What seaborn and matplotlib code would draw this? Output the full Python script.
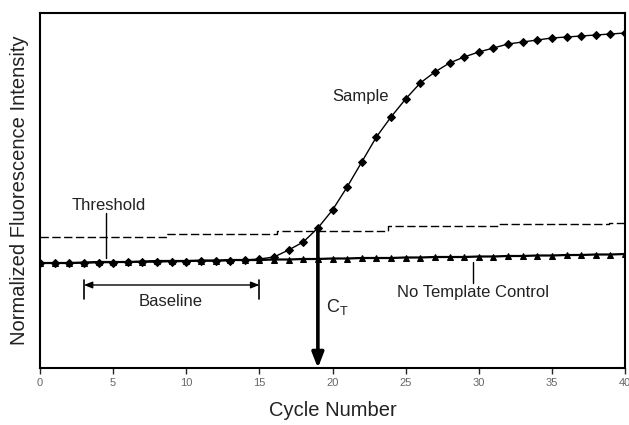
import matplotlib
matplotlib.use("Agg")
import matplotlib.pyplot as plt
import seaborn as sns
import pandas as pd

# ---- data ----
cycles = list(range(0, 41))
sample = [105, 105, 105, 105, 105.5, 105.5, 106, 106, 106, 106.5, 106.5, 107, 107, 107.5, 108, 109,
          111, 118, 126, 140, 158, 181, 206, 231, 251, 269, 285, 296, 305, 311, 316, 320, 324,
          326, 328, 330, 331, 332, 333, 334, 335]
ntc = [105, 105, 105, 105.5, 106, 106, 106, 106.5, 107, 107, 107, 107.5, 107.5, 108, 108, 108,
       108.5, 108.5, 109, 109, 109.5, 109.5, 110, 110, 110, 110.5, 110.5, 111, 111, 111, 111.5,
       111.5, 112, 112, 112.5, 112.5, 113, 113, 113.5, 113.5, 114]
threshold_x = [0, 8.7, 16.2, 23.8, 31.3, 38.9, 40]
threshold_y = [131, 134.5, 137.5, 142, 144, 145, 145]
ct_cycle = 19
ct_value = 140
baseline_start, baseline_end = 3, 15
xticks = [0, 5, 10, 15, 20, 25, 30, 35, 40]

df = pd.DataFrame({"cycle": cycles, "sample": sample, "ntc": ntc})

sns.set_style("white")
plt.rcParams["font.family"] = ["Liberation Sans", "DejaVu Sans"]
plt.rcParams["mathtext.default"] = "regular"

fig = plt.figure(figsize=(6.29, 4.25), dpi=100)
ax = fig.add_axes([40 / 629, 57 / 425, 585 / 629, 355 / 425])

sns.lineplot(data=df, x="cycle", y="sample", ax=ax, color="black", linewidth=1.0,
             marker="D", markersize=4.5, markeredgecolor="black", markerfacecolor="black")
sns.lineplot(data=df, x="cycle", y="ntc", ax=ax, color="black", linewidth=1.6,
             marker="^", markersize=5, markeredgecolor="black", markerfacecolor="black")
ax.plot(threshold_x, threshold_y, drawstyle="steps-post", color="black",
        linewidth=1.0, dashes=(6, 2.5))

# CT arrow
ax.annotate("", xy=(ct_cycle, 0), xytext=(ct_cycle, ct_value),
            arrowprops=dict(arrowstyle="-|>,head_length=0.9,head_width=0.35",
                            color="black", lw=2.6, shrinkA=0, shrinkB=0))
ax.text(ct_cycle + 0.55, 61, "C$_T$", fontsize=13, color="#222", va="center", ha="left")

# Threshold label
ax.text(4.7, 163, "Threshold", fontsize=12, color="#222", ha="center", va="center")
ax.plot([4.5, 4.5], [155, 110], color="black", lw=1.0)

# Baseline bar
ax.annotate("", xy=(baseline_start, 83), xytext=(baseline_end, 83),
            arrowprops=dict(arrowstyle="<|-|>,head_length=0.5,head_width=0.2",
                            color="black", lw=1.0, shrinkA=0, shrinkB=0))
ax.plot([baseline_start, baseline_start], [88, 69], color="black", lw=1.2)
ax.plot([baseline_end, baseline_end], [88, 69], color="black", lw=1.2)
ax.text(8.9, 66, "Baseline", fontsize=12, color="#222", ha="center", va="center")

# No template control label
ax.plot([29.6, 29.6], [106, 85], color="black", lw=1.0)
ax.text(29.6, 76, "No Template Control", fontsize=12, color="#222", ha="center", va="center")

# Sample label
ax.text(21.9, 271, "Sample", fontsize=12, color="#222", ha="center", va="center")

ax.set_xlim(0, 40)
ax.set_ylim(0, 355)
ax.set_xticks(xticks)
ax.set_xticklabels([str(t) for t in xticks])
ax.set_yticks([])
ax.tick_params(axis="x", direction="out", length=4, width=1, pad=3.5,
               labelsize=8, labelcolor="#666", bottom=True)
for s in ax.spines.values():
    s.set_linewidth(1.5)
    s.set_color("black")

ax.set_xlabel("Cycle Number", fontsize=14.5, color="#222", labelpad=9)
ax.set_ylabel("Normalized Fluorescence Intensity", fontsize=14.5, color="#222", labelpad=8)

fig.savefig("out.png", dpi=100)
